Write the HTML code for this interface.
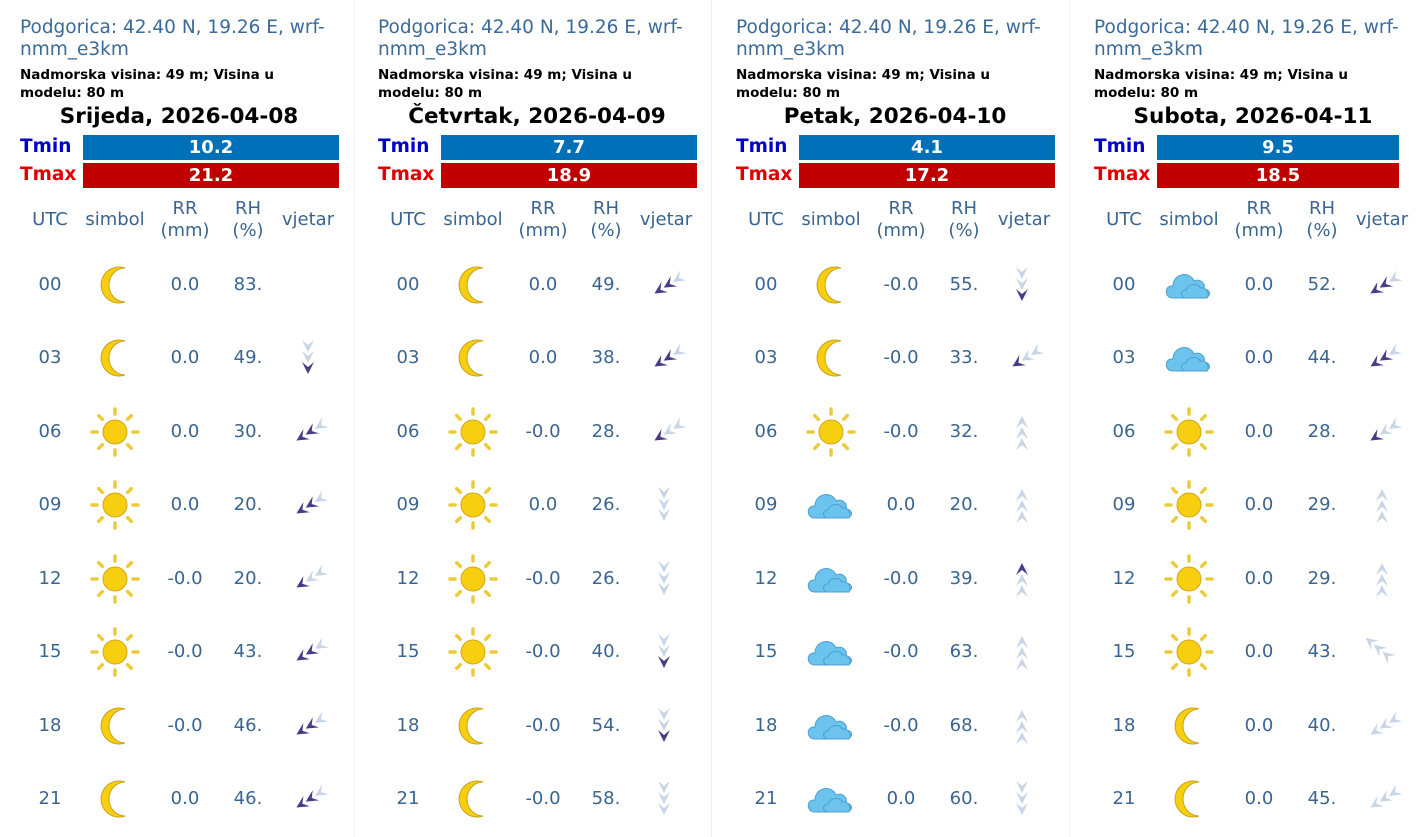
<!DOCTYPE html>
<html><head><meta charset="utf-8"><style>
body{margin:0;width:1416px;height:837px;background:#fff;overflow:hidden;position:relative;font-family:"DejaVu Sans","Liberation Sans",sans-serif}
.p{position:absolute;top:0;width:354px;height:837px}
.sep{position:absolute;top:0;width:1px;height:837px;background:#eef0f3}
.t1{position:absolute;left:20px;top:17px;font-size:18.5px;line-height:22px;color:#3a6a99;width:335px;white-space:nowrap}
.t2{position:absolute;left:20px;top:66px;font-size:13.5px;line-height:18px;font-weight:bold;color:#000;width:340px;white-space:nowrap}
.dt{position:absolute;left:20px;width:318px;top:104px;text-align:center;font-weight:bold;font-size:21.5px;color:#000;white-space:nowrap}
.lb{position:absolute;left:20px;font-weight:bold;font-size:18.5px}
.bar{position:absolute;left:83px;width:256px;height:25px;color:#fff;font-weight:bold;font-size:18px;text-align:center;line-height:25px}
.c{position:absolute;width:80px;margin-left:-40px;text-align:center;font-size:18px;color:#3a6590;line-height:22px}
svg.i{position:absolute;overflow:visible}
</style></head><body>
<svg width="0" height="0" style="position:absolute">
<defs>
<g id="moon"><path d="M10,-17 A18,18 0 1 0 10,17 A16,17 0 0 1 10,-17 Z" fill="#f7cf10" stroke="#c9a21a" stroke-width="1"/></g>
<g id="sun"><circle r="12" fill="#f7cf10" stroke="#d2a81c" stroke-width="1"/>
<g stroke="#eccb3a" stroke-width="3.5" stroke-linecap="round">
<line x1="0" y1="-18" x2="0" y2="-23"/><line x1="0" y1="18" x2="0" y2="23"/><line x1="-18" y1="0" x2="-23" y2="0"/><line x1="18" y1="0" x2="23" y2="0"/>
<line x1="12.7" y1="12.7" x2="16.3" y2="16.3"/><line x1="-12.7" y1="12.7" x2="-16.3" y2="16.3"/><line x1="12.7" y1="-12.7" x2="16.3" y2="-16.3"/><line x1="-12.7" y1="-12.7" x2="-16.3" y2="-16.3"/></g></g>
<g id="cloud"><path d="M-16,11 C-25,11 -25,-2 -16,-1 C-16,-13 0,-17 5,-6 C10,-9 17,-4 15,2 C23,3 22,11 14,11 Z" fill="#6cc3ee" stroke="#4d9fd0" stroke-width="1"/><path d="M-3,11 C-9,11 -9,3 -3,3 C-1,-4 10,-4 11,1 C17,0 21,6 18,11 Z" fill="#6cc3ee" stroke="#4d9fd0" stroke-width="1"/></g>
<g id="wL"><path d="M-6,-18 L0,-6 L6,-18 L0,-13 Z M-6,-7 L0,5 L6,-7 L0,-2 Z M-6,4 L0,16 L6,4 L0,9 Z" fill="#c8d5e6"/></g>
<g id="wD"><path d="M-6,-18 L0,-6 L6,-18 L0,-13 Z M-6,-7 L0,5 L6,-7 L0,-2 Z" fill="#c8d5e6"/><path d="M-6,4 L0,16 L6,4 L0,9 Z" fill="#4a3a88"/></g>
<g id="wD2"><path d="M-6,-18 L0,-6 L6,-18 L0,-13 Z" fill="#c8d5e6"/><path d="M-6,-7 L0,5 L6,-7 L0,-2 Z M-6,4 L0,16 L6,4 L0,9 Z" fill="#4a3a88"/></g>
</defs></svg>

<div class="sep" style="left:354px"></div><div class="sep" style="left:711px"></div><div class="sep" style="left:1069px"></div>

<div class="p" style="left:0">
<div class="t1">Podgorica: 42.40 N, 19.26 E, wrf-<br>nmm_e3km</div>
<div class="t2">Nadmorska visina: 49 m; Visina u<br>modelu: 80 m</div>
<div class="dt">Srijeda, 2026-04-08</div>
<div class="lb" style="top:136px;color:#0000cc">Tmin</div><div class="bar" style="top:135px;background:#0070b8">10.2</div>
<div class="lb" style="top:164px;color:#e00000">Tmax</div><div class="bar" style="top:163px;background:#c00000">21.2</div>
</div>
<div class="p" style="left:358px">
<div class="t1">Podgorica: 42.40 N, 19.26 E, wrf-<br>nmm_e3km</div>
<div class="t2">Nadmorska visina: 49 m; Visina u<br>modelu: 80 m</div>
<div class="dt">Četvrtak, 2026-04-09</div>
<div class="lb" style="top:136px;color:#0000cc">Tmin</div><div class="bar" style="top:135px;background:#0070b8">7.7</div>
<div class="lb" style="top:164px;color:#e00000">Tmax</div><div class="bar" style="top:163px;background:#c00000">18.9</div>
</div>
<div class="p" style="left:716px">
<div class="t1">Podgorica: 42.40 N, 19.26 E, wrf-<br>nmm_e3km</div>
<div class="t2">Nadmorska visina: 49 m; Visina u<br>modelu: 80 m</div>
<div class="dt">Petak, 2026-04-10</div>
<div class="lb" style="top:136px;color:#0000cc">Tmin</div><div class="bar" style="top:135px;background:#0070b8">4.1</div>
<div class="lb" style="top:164px;color:#e00000">Tmax</div><div class="bar" style="top:163px;background:#c00000">17.2</div>
</div>
<div class="p" style="left:1074px">
<div class="t1">Podgorica: 42.40 N, 19.26 E, wrf-<br>nmm_e3km</div>
<div class="t2">Nadmorska visina: 49 m; Visina u<br>modelu: 80 m</div>
<div class="dt">Subota, 2026-04-11</div>
<div class="lb" style="top:136px;color:#0000cc">Tmin</div><div class="bar" style="top:135px;width:242px;background:#0070b8">9.5</div>
<div class="lb" style="top:164px;color:#e00000">Tmax</div><div class="bar" style="top:163px;width:242px;background:#c00000">18.5</div>
</div>

<div class="c" style="left:50px;top:209px">UTC</div><div class="c" style="left:115px;top:209px">simbol</div><div class="c" style="left:185px;top:198px">RR<br>(mm)</div><div class="c" style="left:248px;top:198px">RH<br>(%)</div><div class="c" style="left:308px;top:209px">vjetar</div>
<div class="c" style="left:408px;top:209px">UTC</div><div class="c" style="left:473px;top:209px">simbol</div><div class="c" style="left:543px;top:198px">RR<br>(mm)</div><div class="c" style="left:606px;top:198px">RH<br>(%)</div><div class="c" style="left:666px;top:209px">vjetar</div>
<div class="c" style="left:766px;top:209px">UTC</div><div class="c" style="left:831px;top:209px">simbol</div><div class="c" style="left:901px;top:198px">RR<br>(mm)</div><div class="c" style="left:964px;top:198px">RH<br>(%)</div><div class="c" style="left:1024px;top:209px">vjetar</div>
<div class="c" style="left:1124px;top:209px">UTC</div><div class="c" style="left:1189px;top:209px">simbol</div><div class="c" style="left:1259px;top:198px">RR<br>(mm)</div><div class="c" style="left:1322px;top:198px">RH<br>(%)</div><div class="c" style="left:1382px;top:209px">vjetar</div>

<div class="c" style="left:50px;top:274px">00</div><div class="c" style="left:50px;top:347px">03</div><div class="c" style="left:50px;top:421px">06</div><div class="c" style="left:50px;top:494px">09</div><div class="c" style="left:50px;top:568px">12</div><div class="c" style="left:50px;top:641px">15</div><div class="c" style="left:50px;top:715px">18</div><div class="c" style="left:50px;top:788px">21</div>
<div class="c" style="left:408px;top:274px">00</div><div class="c" style="left:408px;top:347px">03</div><div class="c" style="left:408px;top:421px">06</div><div class="c" style="left:408px;top:494px">09</div><div class="c" style="left:408px;top:568px">12</div><div class="c" style="left:408px;top:641px">15</div><div class="c" style="left:408px;top:715px">18</div><div class="c" style="left:408px;top:788px">21</div>
<div class="c" style="left:766px;top:274px">00</div><div class="c" style="left:766px;top:347px">03</div><div class="c" style="left:766px;top:421px">06</div><div class="c" style="left:766px;top:494px">09</div><div class="c" style="left:766px;top:568px">12</div><div class="c" style="left:766px;top:641px">15</div><div class="c" style="left:766px;top:715px">18</div><div class="c" style="left:766px;top:788px">21</div>
<div class="c" style="left:1124px;top:274px">00</div><div class="c" style="left:1124px;top:347px">03</div><div class="c" style="left:1124px;top:421px">06</div><div class="c" style="left:1124px;top:494px">09</div><div class="c" style="left:1124px;top:568px">12</div><div class="c" style="left:1124px;top:641px">15</div><div class="c" style="left:1124px;top:715px">18</div><div class="c" style="left:1124px;top:788px">21</div>

<div class="c" style="left:185px;top:274px">0.0</div><div class="c" style="left:248px;top:274px">83.</div>
<div class="c" style="left:185px;top:347px">0.0</div><div class="c" style="left:248px;top:347px">49.</div>
<div class="c" style="left:185px;top:421px">0.0</div><div class="c" style="left:248px;top:421px">30.</div>
<div class="c" style="left:185px;top:494px">0.0</div><div class="c" style="left:248px;top:494px">20.</div>
<div class="c" style="left:185px;top:568px">-0.0</div><div class="c" style="left:248px;top:568px">20.</div>
<div class="c" style="left:185px;top:641px">-0.0</div><div class="c" style="left:248px;top:641px">43.</div>
<div class="c" style="left:185px;top:715px">-0.0</div><div class="c" style="left:248px;top:715px">46.</div>
<div class="c" style="left:185px;top:788px">0.0</div><div class="c" style="left:248px;top:788px">46.</div>
<div class="c" style="left:543px;top:274px">0.0</div><div class="c" style="left:606px;top:274px">49.</div>
<div class="c" style="left:543px;top:347px">0.0</div><div class="c" style="left:606px;top:347px">38.</div>
<div class="c" style="left:543px;top:421px">-0.0</div><div class="c" style="left:606px;top:421px">28.</div>
<div class="c" style="left:543px;top:494px">0.0</div><div class="c" style="left:606px;top:494px">26.</div>
<div class="c" style="left:543px;top:568px">-0.0</div><div class="c" style="left:606px;top:568px">26.</div>
<div class="c" style="left:543px;top:641px">-0.0</div><div class="c" style="left:606px;top:641px">40.</div>
<div class="c" style="left:543px;top:715px">-0.0</div><div class="c" style="left:606px;top:715px">54.</div>
<div class="c" style="left:543px;top:788px">-0.0</div><div class="c" style="left:606px;top:788px">58.</div>
<div class="c" style="left:901px;top:274px">-0.0</div><div class="c" style="left:964px;top:274px">55.</div>
<div class="c" style="left:901px;top:347px">-0.0</div><div class="c" style="left:964px;top:347px">33.</div>
<div class="c" style="left:901px;top:421px">-0.0</div><div class="c" style="left:964px;top:421px">32.</div>
<div class="c" style="left:901px;top:494px">0.0</div><div class="c" style="left:964px;top:494px">20.</div>
<div class="c" style="left:901px;top:568px">-0.0</div><div class="c" style="left:964px;top:568px">39.</div>
<div class="c" style="left:901px;top:641px">-0.0</div><div class="c" style="left:964px;top:641px">63.</div>
<div class="c" style="left:901px;top:715px">-0.0</div><div class="c" style="left:964px;top:715px">68.</div>
<div class="c" style="left:901px;top:788px">0.0</div><div class="c" style="left:964px;top:788px">60.</div>
<div class="c" style="left:1259px;top:274px">0.0</div><div class="c" style="left:1322px;top:274px">52.</div>
<div class="c" style="left:1259px;top:347px">0.0</div><div class="c" style="left:1322px;top:347px">44.</div>
<div class="c" style="left:1259px;top:421px">0.0</div><div class="c" style="left:1322px;top:421px">28.</div>
<div class="c" style="left:1259px;top:494px">0.0</div><div class="c" style="left:1322px;top:494px">29.</div>
<div class="c" style="left:1259px;top:568px">0.0</div><div class="c" style="left:1322px;top:568px">29.</div>
<div class="c" style="left:1259px;top:641px">0.0</div><div class="c" style="left:1322px;top:641px">43.</div>
<div class="c" style="left:1259px;top:715px">0.0</div><div class="c" style="left:1322px;top:715px">40.</div>
<div class="c" style="left:1259px;top:788px">0.0</div><div class="c" style="left:1322px;top:788px">45.</div>

<svg class="i" style="left:0;top:0" width="1416" height="837">
<use href="#moon" x="115" y="285"/><use href="#moon" x="115" y="358"/><use href="#sun" x="115" y="432"/><use href="#sun" x="115" y="505"/><use href="#sun" x="115" y="579"/><use href="#sun" x="115" y="652"/><use href="#moon" x="115" y="726"/><use href="#moon" x="115" y="799"/>
<use href="#moon" x="473" y="285"/><use href="#moon" x="473" y="358"/><use href="#sun" x="473" y="432"/><use href="#sun" x="473" y="505"/><use href="#sun" x="473" y="579"/><use href="#sun" x="473" y="652"/><use href="#moon" x="473" y="726"/><use href="#moon" x="473" y="799"/>
<use href="#moon" x="831" y="285"/><use href="#moon" x="831" y="358"/><use href="#sun" x="831" y="432"/><use href="#cloud" x="831" y="507"/><use href="#cloud" x="831" y="581"/><use href="#cloud" x="831" y="654"/><use href="#cloud" x="831" y="728"/><use href="#cloud" x="831" y="801"/>
<use href="#cloud" x="1189" y="287"/><use href="#cloud" x="1189" y="360"/><use href="#sun" x="1189" y="432"/><use href="#sun" x="1189" y="505"/><use href="#sun" x="1189" y="579"/><use href="#sun" x="1189" y="652"/><use href="#moon" x="1189" y="726"/><use href="#moon" x="1189" y="799"/>

<g transform="translate(308,358)"><use href="#wD"/></g>
<g transform="translate(310,432) rotate(58)"><use href="#wD2"/></g>
<g transform="translate(310,505) rotate(58)"><use href="#wD2"/></g>
<g transform="translate(310,579) rotate(58)"><use href="#wD"/></g>
<g transform="translate(310,652) rotate(58)"><use href="#wD2"/></g>
<g transform="translate(310,726) rotate(58)"><use href="#wD2"/></g>
<g transform="translate(310,799) rotate(58)"><use href="#wD2"/></g>
<g transform="translate(668,285) rotate(58)"><use href="#wD2"/></g>
<g transform="translate(668,358) rotate(58)"><use href="#wD2"/></g>
<g transform="translate(668,432) rotate(58)"><use href="#wD"/></g>
<g transform="translate(664,505)"><use href="#wL"/></g>
<g transform="translate(664,579)"><use href="#wL"/></g>
<g transform="translate(664,652)"><use href="#wD"/></g>
<g transform="translate(664,726)"><use href="#wD"/></g>
<g transform="translate(664,799)"><use href="#wL"/></g>
<g transform="translate(1022,285)"><use href="#wD"/></g>
<g transform="translate(1026,358) rotate(58)"><use href="#wD"/></g>
<g transform="translate(1022,432) rotate(180)"><use href="#wL"/></g>
<g transform="translate(1022,505) rotate(180)"><use href="#wL"/></g>
<g transform="translate(1022,579) rotate(180)"><use href="#wD"/></g>
<g transform="translate(1022,652) rotate(180)"><use href="#wL"/></g>
<g transform="translate(1022,726) rotate(180)"><use href="#wL"/></g>
<g transform="translate(1022,799)"><use href="#wL"/></g>
<g transform="translate(1384,285) rotate(58)"><use href="#wD2"/></g>
<g transform="translate(1384,358) rotate(58)"><use href="#wD2"/></g>
<g transform="translate(1384,432) rotate(58)"><use href="#wD"/></g>
<g transform="translate(1382,505) rotate(180)"><use href="#wL"/></g>
<g transform="translate(1382,579) rotate(180)"><use href="#wL"/></g>
<g transform="translate(1378,648) rotate(130)"><use href="#wL"/></g>
<g transform="translate(1384,726) rotate(58)"><use href="#wL"/></g>
<g transform="translate(1384,799) rotate(58)"><use href="#wL"/></g>
</svg>
</body></html>
